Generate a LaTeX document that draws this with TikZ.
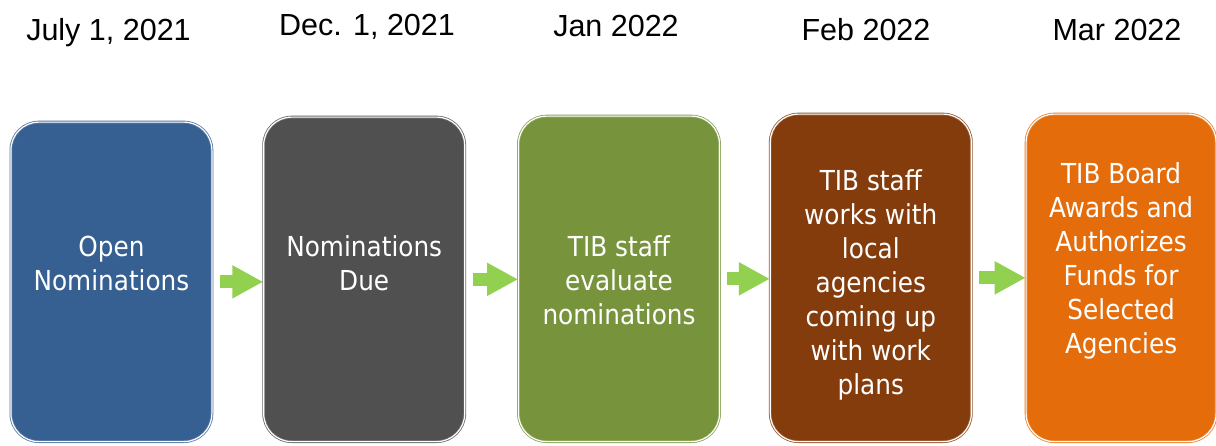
\documentclass[tikz,border=0pt]{standalone}
\usepackage{fontspec}
\setmainfont{Liberation Sans}
\newfontfamily\boxfont[FakeStretch=0.9]{DejaVu Sans}
\usetikzlibrary{positioning,arrows.meta}

\definecolor{stepblue}{RGB}{55,96,146}
\definecolor{stepgray}{RGB}{80,80,80}
\definecolor{stepgreen}{RGB}{119,147,60}
\definecolor{stepbrown}{RGB}{132,60,12}
\definecolor{steporange}{RGB}{228,108,10}
\definecolor{arrowgreen}{RGB}{146,208,80}

\begin{document}
\begin{tikzpicture}[x=1pt, y=-1pt, box/.style={draw=#1!85!white, fill=#1, double=white, double distance=1.2pt, line width=0.8pt, rounded corners=28pt, minimum width=201pt, inner sep=0pt}, txt/.style={align=center, text=white, font=\boxfont\fontsize{27.5}{34}\selectfont, inner sep=0pt, anchor=north}, date/.style={font=\fontsize{30.5}{36}\selectfont, inner sep=0pt, anchor=base}, arr/.style={draw=arrowgreen, line width=13pt, shorten <=7.5pt, -{Triangle[length=31pt,width=31pt]}}]
\useasboundingbox (0,0) rectangle (1216,445);
% boxes, bottoms lined up
\node[box=stepblue, minimum height=319.5pt, anchor=south west] (b1) at (10.5,442) {};
\node[box=stepgray, minimum height=324.5pt, right=51pt of b1.south east, anchor=south west] (b2) {};
\node[box=stepgreen, minimum height=325.5pt, right=53pt of b2.south east, anchor=south west] (b3) {};
\node[box=stepbrown, minimum height=327.5pt, right=50pt of b3.south east, anchor=south west] (b4) {};
\node[box=steporange, minimum height=327.5pt, minimum width=190pt, right=54pt of b4.south east, anchor=south west] (b5) {};
% box texts
\node[txt] (t1) at (b1.north |- 0,236) {Open\\Nominations};
\node[txt] (t2) at (b2.north |- 0,235) {Nominations\\Due};
\node[txt] (t3) at (b3.north |- 0,235) {TIB staff\\evaluate\\nominations};
\node[txt] (t4) at (b4.north |- 0,169) {TIB staff\\works with\\local\\agencies\\coming up\\with work\\plans};
\node[txt] (t5) at (b5.north |- 0,162) {TIB Board\\Awards and\\Authorizes\\Funds for\\Selected\\Agencies};
% dates
\node[date] (d1) at (108.5,40) {July 1, 2021};
\node[date] (d2) at (367,35) {Dec. 1, 2021};
\node[date] (d3) at (616,36) {Jan 2022};
\node[date] (d4) at (866,40) {Feb 2022};
\node[date] (d5) at (1117,40) {Mar 2022};
% arrows
\draw[arr] (b1.east) -- (b1.east -| b2.west);
\draw[arr] (b2.east) -- (b2.east -| b3.west);
\draw[arr] (b3.east) -- (b3.east -| b4.west);
\draw[arr] (b4.east) -- (b4.east -| b5.west);
\end{tikzpicture}
\end{document}
